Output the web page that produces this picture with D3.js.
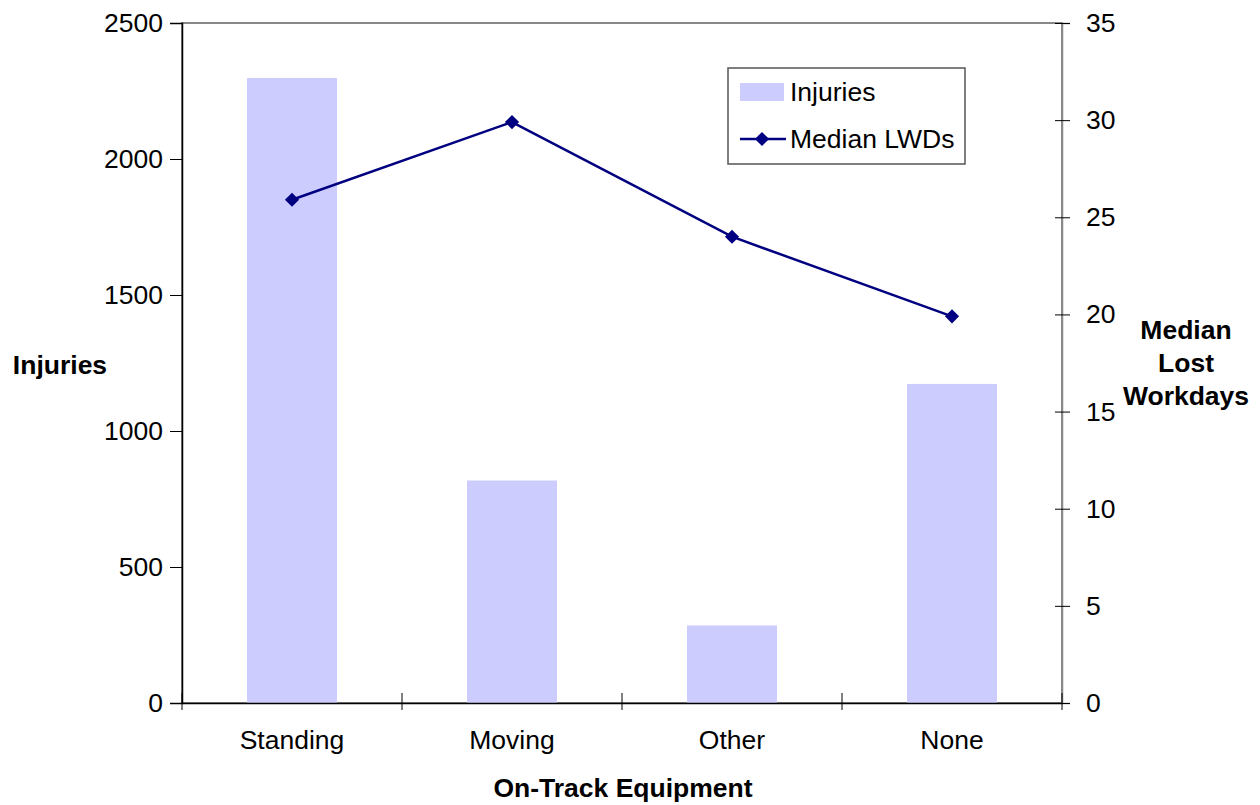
<!DOCTYPE html>
<html><head><meta charset="utf-8">
<script src="https://cdn.jsdelivr.net/npm/d3@7"></script>
<style>body{margin:0;background:#fff}svg{font-family:"Liberation Sans",Arial,sans-serif}</style>
</head><body><svg id="c" width="1260" height="805"></svg>
<script>
const categories = ["Standing", "Moving", "Other", "None"];
const injuries = [2298, 818, 285, 1173];
const medianLWDs = [25.9, 29.9, 24.0, 19.9];
const leftTicks = [0, 500, 1000, 1500, 2000, 2500];
const rightTicks = [0, 5, 10, 15, 20, 25, 30, 35];

const svg = d3.select("#c");
const L = 182, R = 1062, T = 23, B = 703;
const FS = 26.5;
const xc = d3.scaleBand().domain(categories).range([L, R]);
const yL = d3.scaleLinear().domain([0, 2500]).range([B, T]);
const yR = d3.scaleLinear().domain([0, 35]).range([B, T]);

// plot border (gray)
svg.append("rect").attr("x", L).attr("y", T).attr("width", R - L).attr("height", B - T)
  .attr("fill", "none").attr("stroke", "#888").attr("stroke-width", 2);

// bars
svg.selectAll("rect.bar").data(categories).join("rect").attr("class", "bar")
  .attr("x", d => xc(d) + xc.bandwidth() / 2 - 45).attr("width", 90)
  .attr("y", (d, i) => yL(injuries[i])).attr("height", (d, i) => B - yL(injuries[i]))
  .attr("fill", "#ccccff");

// left axis
const gl = svg.append("g").attr("transform", `translate(${L},0)`)
  .call(d3.axisLeft(yL).tickValues(leftTicks).tickSize(12).tickPadding(7).tickFormat(d3.format("d")));
gl.select(".domain").attr("stroke", "#000").attr("stroke-width", 1.5);
gl.selectAll("text").attr("font-size", FS).attr("fill", "#000");

// right axis
const gr = svg.append("g").attr("transform", `translate(${R},0)`)
  .call(d3.axisRight(yR).tickValues(rightTicks).tickSize(8).tickPadding(16));
gr.select(".domain").attr("stroke", "#888").attr("stroke-width", 1.5);
gr.selectAll("line").attr("x1", -7);
gr.selectAll("text").attr("font-size", FS).attr("fill", "#000");

// bottom axis
const gb = svg.append("g").attr("transform", `translate(0,${B})`)
  .call(d3.axisBottom(xc).tickSize(0).tickPadding(27));
gb.select(".domain").attr("stroke", "#000").attr("stroke-width", 1.5);
gb.selectAll("text").attr("font-size", FS).attr("fill", "#000");
const seps = d3.range(categories.length + 1).map(i => L + i * xc.step());
gb.selectAll("line.sep").data(seps).join("line").attr("class", "sep")
  .attr("x1", d => d).attr("x2", d => d).attr("y1", -10).attr("y2", 7)
  .attr("stroke", "#000").attr("stroke-width", 1);

// line
const pts = categories.map((c, i) => [xc(c) + xc.bandwidth() / 2, yR(medianLWDs[i])]);
svg.append("path").attr("d", d3.line()(pts)).attr("fill", "none")
  .attr("stroke", "#000080").attr("stroke-width", 2.5);
const marker = d3.symbol().type(d3.symbolSquare).size(100);
svg.selectAll("path.pt").data(pts).join("path").attr("class", "pt")
  .attr("d", marker).attr("transform", d => `translate(${d[0]},${d[1]}) rotate(45)`)
  .attr("fill", "#000080");

// axis titles
svg.append("text").attr("x", 60).attr("y", 374).attr("text-anchor", "middle")
  .attr("font-size", FS).attr("font-weight", "bold").text("Injuries");
const rt = svg.append("text").attr("text-anchor", "middle")
  .attr("font-size", FS).attr("font-weight", "bold");
["Median", "Lost", "Workdays"].forEach((t, i) => rt.append("tspan").attr("x", 1186).attr("y", 339 + i * 33).text(t));
svg.append("text").attr("x", 623).attr("y", 797).attr("text-anchor", "middle")
  .attr("font-size", FS).attr("font-weight", "bold").text("On-Track Equipment");

// legend
const lg = svg.append("g");
lg.append("rect").attr("x", 728).attr("y", 68).attr("width", 237).attr("height", 96)
  .attr("fill", "#fff").attr("stroke", "#555").attr("stroke-width", 1.5);
lg.append("rect").attr("x", 740).attr("y", 83).attr("width", 44).attr("height", 18).attr("fill", "#ccccff");
lg.append("text").attr("x", 790).attr("y", 101).attr("font-size", FS).text("Injuries");
lg.append("line").attr("x1", 740).attr("x2", 786).attr("y1", 139).attr("y2", 139)
  .attr("stroke", "#000080").attr("stroke-width", 2.5);
lg.append("path").attr("d", marker).attr("transform", "translate(762,139) rotate(45)").attr("fill", "#000080");
lg.append("text").attr("x", 790).attr("y", 148).attr("font-size", FS).text("Median LWDs");
</script></body></html>
